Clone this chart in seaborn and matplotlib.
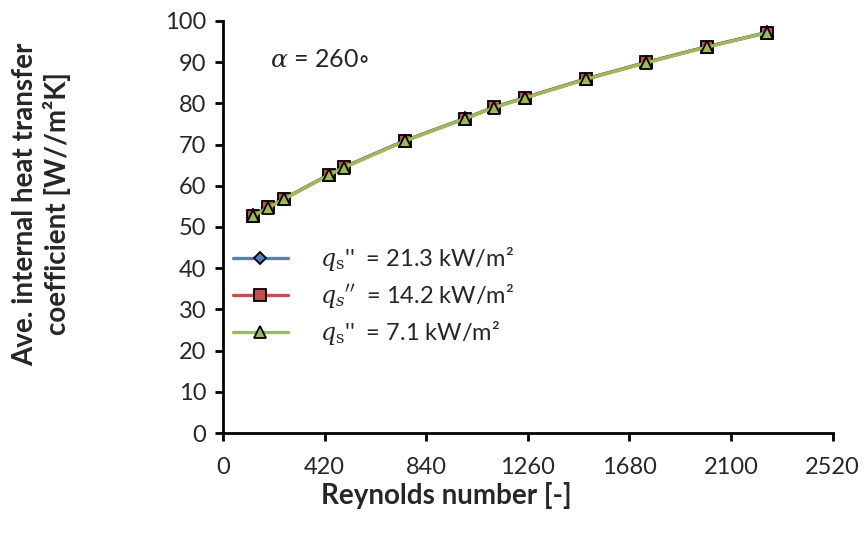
import pandas as pd
import matplotlib.pyplot as plt
import seaborn as sns

# Reynolds number and average internal heat transfer coefficient
reynolds = [126, 188, 251, 438, 500, 751, 1002, 1119, 1250, 1500, 1749, 1999, 2249]
h_213 = [52.8, 54.8, 56.8, 62.7, 64.5, 70.9, 76.4, 79.0, 81.4, 85.9, 89.9, 93.7, 97.2]
h_142 = [52.7, 54.8, 56.8, 62.6, 64.5, 70.9, 76.3, 79.0, 81.4, 85.9, 89.9, 93.7, 97.1]
h_71 = [52.7, 54.7, 56.7, 62.6, 64.4, 70.8, 76.3, 78.9, 81.3, 85.8, 89.8, 93.6, 97.1]

labels = [
    r"$q_\mathrm{s}$''  = 21.3 kW/m²",
    r"$q_s$$^{\prime\prime}$  = 14.2 kW/m²",
    r"$q_\mathrm{s}$''  = 7.1 kW/m²",
]
colors = ["#4F81BD", "#C0504D", "#9BBB59"]
markers = ["D", "s", "^"]
msizes = [6, 9, 8]

sns.set_theme(style="white")
plt.rcParams["font.family"] = ["Lato", "DejaVu Sans"]
plt.rcParams["mathtext.fontset"] = "dejavuserif"

fig, ax = plt.subplots(figsize=(8.64, 5.34), dpi=100)
fig.subplots_adjust(left=0.258, right=0.9637, top=0.961, bottom=0.189)

for vals, lab, c, m, ms in zip([h_213, h_142, h_71], labels, colors, markers, msizes):
    df = pd.DataFrame({"Re": reynolds, "h": vals})
    sns.lineplot(data=df, x="Re", y="h", ax=ax, color=c, marker=m, markersize=ms,
                 markeredgecolor="black", markeredgewidth=1.3, linewidth=2.4, label=lab)

ax.set_xlim(0, 2520)
ax.set_ylim(0, 100)
ax.set_xticks(range(0, 2521, 420))
ax.set_yticks(range(0, 101, 10))
ax.tick_params(axis="both", labelsize=17, direction="out", length=6, width=2,
               color="black", left=True, bottom=True, pad=6)
ax.tick_params(axis="x", pad=11)
for s in ["top", "right"]:
    ax.spines[s].set_visible(False)
for s in ["left", "bottom"]:
    ax.spines[s].set_color("black")
    ax.spines[s].set_linewidth(2)

ax.set_xlabel("Reynolds number [-]", fontsize=20, fontweight="bold", labelpad=3)
ax.set_ylabel("Ave. internal heat transfer\ncoefficient [W//m²K]", fontsize=20,
              fontweight="bold", labelpad=68)
ax.xaxis.label.set_x(0.367)
ax.yaxis.label.set_y(0.556)

ax.text(0.078, 0.905, r"$\alpha$ = 260$\circ$", transform=ax.transAxes, fontsize=18,
        va="center")

leg = ax.legend(loc="lower left", bbox_to_anchor=(-0.01, 0.168), frameon=False,
                fontsize=17, handlelength=2.3, handletextpad=1.35, labelspacing=0.38,
                borderaxespad=0.3)

plt.savefig("out.png", dpi=100)
